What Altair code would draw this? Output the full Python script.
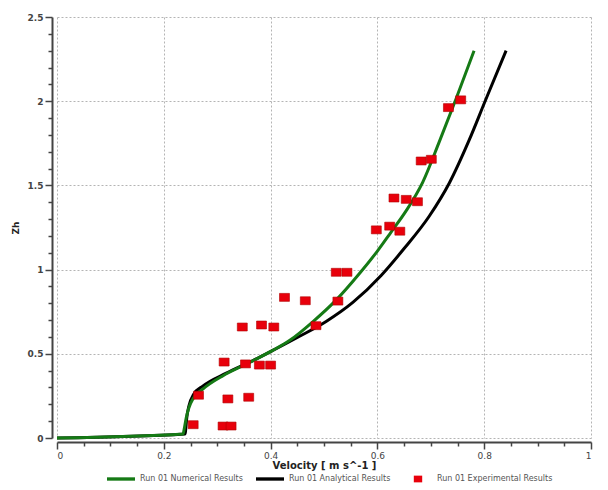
import altair as alt
import pandas as pd

# Series names
NUM = "Run 01 Numerical Results"
ANA = "Run 01 Analytical Results"
EXP = "Run 01 Experimental Results"

# Numerical profile: velocity [m/s] vs Zh
num_v = [0.0, 0.236, 0.238, 0.242, 0.247, 0.255, 0.273, 0.311, 0.355, 0.404, 0.436,
         0.479, 0.523, 0.566, 0.600, 0.625, 0.654, 0.685, 0.716, 0.747, 0.781]
num_z = [0.0, 0.024, 0.05, 0.12, 0.18, 0.235, 0.29, 0.37, 0.44, 0.52, 0.58,
         0.69, 0.82, 0.975, 1.11, 1.22, 1.35, 1.52, 1.76, 2.012, 2.30]

# Analytical profile
ana_v = [0.0, 0.240, 0.241, 0.243, 0.247, 0.256, 0.273, 0.317, 0.367, 0.404, 0.450,
         0.504, 0.554, 0.607, 0.650, 0.697, 0.735, 0.772, 0.803, 0.841]
ana_z = [0.0, 0.024, 0.05, 0.12, 0.19, 0.26, 0.308, 0.385, 0.46, 0.52, 0.597,
         0.692, 0.805, 0.965, 1.125, 1.317, 1.516, 1.77, 2.01, 2.30]

# Experimental measurements
exp_v = [0.756, 0.733, 0.701, 0.682, 0.631, 0.654, 0.675, 0.598, 0.623, 0.642,
         0.523, 0.543, 0.426, 0.465, 0.526, 0.347, 0.383, 0.406, 0.485, 0.313,
         0.353, 0.379, 0.400, 0.265, 0.320, 0.359, 0.255, 0.311, 0.326]
exp_z = [2.008, 1.962, 1.655, 1.645, 1.425, 1.417, 1.403, 1.236, 1.258, 1.228,
         0.984, 0.984, 0.835, 0.815, 0.813, 0.659, 0.671, 0.659, 0.667, 0.451,
         0.440, 0.433, 0.433, 0.254, 0.232, 0.242, 0.079, 0.071, 0.071]

x_ticks = [round(i * 0.05, 2) for i in range(21)]
y_ticks = [round(i * 0.1, 1) for i in range(26)]

series = [NUM, ANA, EXP]
colors = ["#157a15", "#000000", "#e8000b"]
# legend glyphs: wide bar for the curves, small box for the measurements
line_glyph = "M-1,-0.12L1,-0.12L1,0.12L-1,0.12Z"
box_glyph = "M-0.3,-0.24L0.3,-0.24L0.3,0.24L-0.3,0.24Z"

num_df = pd.DataFrame({"v": num_v, "z": num_z, "s": NUM, "i": range(len(num_v))})
ana_df = pd.DataFrame({"v": ana_v, "z": ana_z, "s": ANA, "i": range(len(ana_v))})
exp_df = pd.DataFrame({"v": exp_v, "z": exp_z, "s": EXP})

x_major = "abs(datum.value*5 - round(datum.value*5)) < 1e-6"
y_major = "abs(datum.value*2 - round(datum.value*2)) < 1e-6"

font = "DejaVu Sans"
grid_col = "#b4b4b4"

x_enc = alt.X(
    "v:Q",
    scale=alt.Scale(domain=[0, 1], nice=False, zero=False),
    axis=alt.Axis(
        title="Velocity [ m s^-1 ]",
        values=x_ticks,
        format="~g",
        labelExpr=f"{x_major} ? datum.label : ''",
        offset=4,
        grid=True,
        gridDash=[2, 2],
        gridColor=grid_col,
        gridOpacity={"condition": {"test": x_major, "value": 1}, "value": 0},
        tickSize={"condition": {"test": x_major, "value": 7}, "value": 4},
        tickColor="#444444",
        tickWidth=1.5,
        domainColor="#444444",
        domainWidth=2,
        labelFont=font,
        labelFontSize=9,
        labelColor="#444444",
        labelPadding=2,
        titleFont=font,
        titleFontSize=10,
        titleFontWeight="bold",
        titleColor="#222222",
        titlePadding=0,
    ),
)

y_enc = alt.Y(
    "z:Q",
    scale=alt.Scale(domain=[0, 2.5], nice=False, zero=False),
    axis=alt.Axis(
        title="Zh",
        values=y_ticks,
        format="~g",
        labelExpr=f"{y_major} ? datum.label : ''",
        offset=5,
        grid=True,
        gridDash=[2, 2],
        gridColor=grid_col,
        gridOpacity={"condition": {"test": y_major, "value": 1}, "value": 0},
        tickSize={"condition": {"test": y_major, "value": 7}, "value": 4},
        tickColor="#444444",
        tickWidth=1.5,
        domainColor="#444444",
        domainWidth=2,
        labelFont=font,
        labelFontSize=9,
        labelFontWeight="bold",
        labelColor="#444444",
        labelPadding=2,
        titleFont=font,
        titleFontSize=9,
        titleFontWeight="bold",
        titleColor="#222222",
        titlePadding=7,
    ),
)

legend = alt.Legend(
    title=None,
    orient="none",
    direction="horizontal",
    legendX=50,
    legendY=448,
    symbolSize=784,
    symbolStrokeWidth=0,
    labelFont=font,
    labelFontSize=8,
    labelColor="#555555",
    labelOffset=5,
    columnPadding=13,
    labelLimit=200,
)

color_enc = alt.Color("s:N", scale=alt.Scale(domain=series, range=colors), legend=legend)
shape_enc = alt.Shape(
    "s:N",
    scale=alt.Scale(domain=series, range=[line_glyph, line_glyph, box_glyph]),
    legend=legend,
)

num_line = alt.Chart(num_df).mark_line(strokeWidth=3, interpolate="monotone").encode(
    x=x_enc, y=y_enc, order="i:Q", color=color_enc,
)
ana_line = alt.Chart(ana_df).mark_line(strokeWidth=3, interpolate="monotone").encode(
    x=x_enc, y=y_enc, order="i:Q", color=color_enc,
)
exp_pts = alt.Chart(exp_df).mark_point(filled=True, opacity=1, stroke="#b00000", strokeWidth=0.6).encode(
    x=x_enc, y=y_enc, color=color_enc, shape=shape_enc, size=alt.value(1100),
)

chart = (
    alt.layer(ana_line, num_line, exp_pts)
    .properties(
        width=534,
        height=421,
        autosize=alt.AutoSizeParams(type="none"),
        padding={"left": 57, "top": 17, "right": 17, "bottom": 52},
        background="white",
    )
    .configure_view(stroke=None)
)

chart.save("out.html", embed_options={"renderer": "svg", "actions": False})
